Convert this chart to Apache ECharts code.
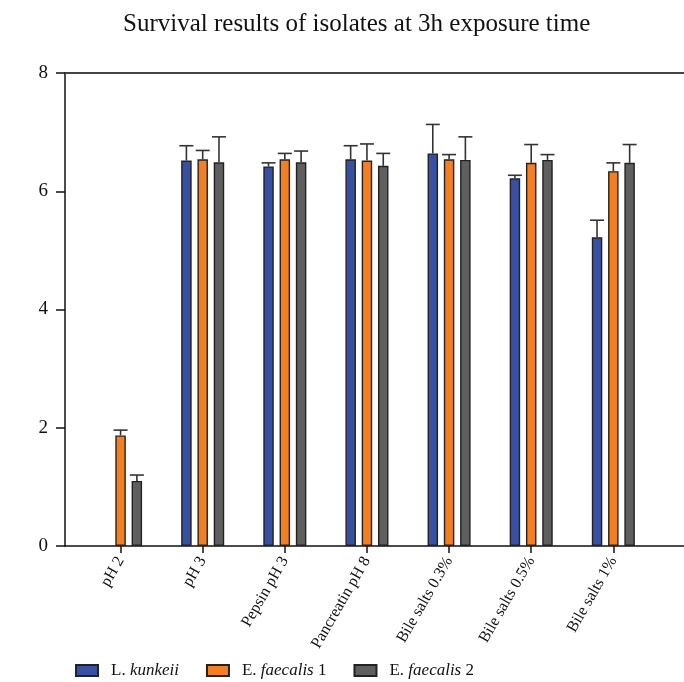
<!DOCTYPE html>
<html><head><meta charset="utf-8">
<script src="https://cdn.jsdelivr.net/npm/echarts@6/dist/echarts.min.js"></script>
<style>html,body{margin:0;padding:0;background:#fff}#c{width:684px;height:682px}</style>
</head><body><div id="c"></div>
<script>
const categories = ['pH 2','pH 3','Pepsin pH 3','Pancreatin pH 8','Bile salts 0.3%','Bile salts 0.5%','Bile salts 1%'];
const kunkeii     = [null, 6.52, 6.42, 6.54, 6.64, 6.22, 5.22];
const kunkeiiErr  = [null, 0.25, 0.06, 0.23, 0.49, 0.05, 0.29];
const faecalis1    = [1.87, 6.54, 6.54, 6.52, 6.54, 6.48, 6.34];
const faecalis1Err = [0.09, 0.15, 0.10, 0.28, 0.08, 0.31, 0.14];
const faecalis2    = [1.10, 6.49, 6.49, 6.43, 6.53, 6.53, 6.48];
const faecalis2Err = [0.10, 0.43, 0.19, 0.21, 0.39, 0.09, 0.31];
const yTicks = [0, 2, 4, 6, 8];

const seriesNames = ['L. kunkeii', 'E. faecalis 1', 'E. faecalis 2'];
const colors = ['#3750a3', '#f47f20', '#5f5f5f'];
const serif = '"Liberation Serif", "DejaVu Serif", serif';
const BAR_W = 10.5, GAP = 5.8;
const offsets = [-(BAR_W + GAP), 0, BAR_W + GAP];

const chart = echarts.init(document.getElementById('c'));

function errSeries(vals, errs, idx) {
  return {
    type: 'custom', xAxisIndex: 2, yAxisIndex: 1, z: 5, silent: true,
    data: vals.map((v, i) => v == null ? [i, '-', '-'] : [i, v, errs[i]]),
    renderItem: function (params, api) {
      const v = api.value(1), e = api.value(2);
      if (isNaN(v)) return;
      const p = api.coord([api.value(0), v]);
      const t = api.coord([api.value(0), v + e]);
      const x = p[0] + offsets[idx];
      const st = { stroke: '#333', lineWidth: 1.6 };
      return { type: 'group', children: [
        { type: 'line', shape: { x1: x, y1: p[1], x2: x, y2: t[1] }, style: st },
        { type: 'line', shape: { x1: x - 7, y1: t[1], x2: x + 7, y2: t[1] }, style: st }
      ]};
    }
  };
}

function barSeries(name, vals, idx) {
  return {
    name: name, type: 'bar', xAxisIndex: 2, yAxisIndex: 1,
    data: vals, barWidth: BAR_W, barGap: (GAP / BAR_W * 100).toFixed(0) + '%',
    itemStyle: { color: colors[idx], borderColor: '#222', borderWidth: 1.4 }
  };
}

const legendRich = {
  n: { fontFamily: serif, fontSize: 17, color: '#111' },
  i: { fontFamily: serif, fontSize: 17, fontStyle: 'italic', color: '#111' }
};

chart.setOption({
  animation: false,
  backgroundColor: '#fff',
  title: {
    text: 'Survival results of isolates at 3h exposure time',
    left: 118, top: 7,
    textStyle: { fontFamily: serif, fontSize: 25, fontWeight: 'normal', color: '#111' }
  },
  legend: {
    left: 70, top: 657, itemWidth: 22, itemHeight: 11, itemGap: 27,
    icon: 'rect',
    data: seriesNames,
    formatter: function (n) {
      if (n === 'L. kunkeii') return '{n|L. }{i|kunkeii}';
      if (n === 'E. faecalis 1') return '{n|E. }{i|faecalis}{n| 1}';
      return '{n|E. }{i|faecalis}{n| 2}';
    },
    textStyle: { rich: legendRich, padding: [0, 0, 0, 8] }
  },
  grid: [
    { left: 65, right: 0, top: 73, bottom: 136 },
    { left: 79.5, right: 29.6, top: 73, bottom: 136 }
  ],
  xAxis: [
    { gridIndex: 0, type: 'value', min: 0, max: 1, position: 'bottom',
      axisLine: { show: true, onZero: false, lineStyle: { color: '#111', width: 1.5 } },
      axisTick: { show: false }, axisLabel: { show: false }, splitLine: { show: false } },
    { gridIndex: 0, type: 'value', min: 0, max: 1, position: 'top',
      axisLine: { show: true, onZero: false, lineStyle: { color: '#444', width: 2 } },
      axisTick: { show: false }, axisLabel: { show: false }, splitLine: { show: false } },
    { gridIndex: 1, type: 'category', data: categories,
      axisLine: { show: false },
      axisTick: { show: true, alignWithLabel: true, length: 7, lineStyle: { color: '#111', width: 1.5 } },
      axisLabel: { rotate: 60, fontFamily: serif, fontSize: 16, color: '#111', margin: 12, interval: 0 } }
  ],
  yAxis: [
    { gridIndex: 0, type: 'value', min: yTicks[0], max: yTicks[yTicks.length - 1], interval: 2,
      axisLine: { show: true, lineStyle: { color: '#111', width: 1.5 } },
      axisTick: { show: true, length: 9, lineStyle: { color: '#111', width: 1.5 } },
      axisLabel: { fontFamily: serif, fontSize: 19, color: '#111', margin: 17 },
      splitLine: { show: false } },
    { gridIndex: 1, type: 'value', min: yTicks[0], max: yTicks[yTicks.length - 1], interval: 2, show: false }
  ],
  series: [
    barSeries(seriesNames[0], kunkeii, 0),
    barSeries(seriesNames[1], faecalis1, 1),
    barSeries(seriesNames[2], faecalis2, 2),
    errSeries(kunkeii, kunkeiiErr, 0),
    errSeries(faecalis1, faecalis1Err, 1),
    errSeries(faecalis2, faecalis2Err, 2)
  ]
});
</script></body></html>
